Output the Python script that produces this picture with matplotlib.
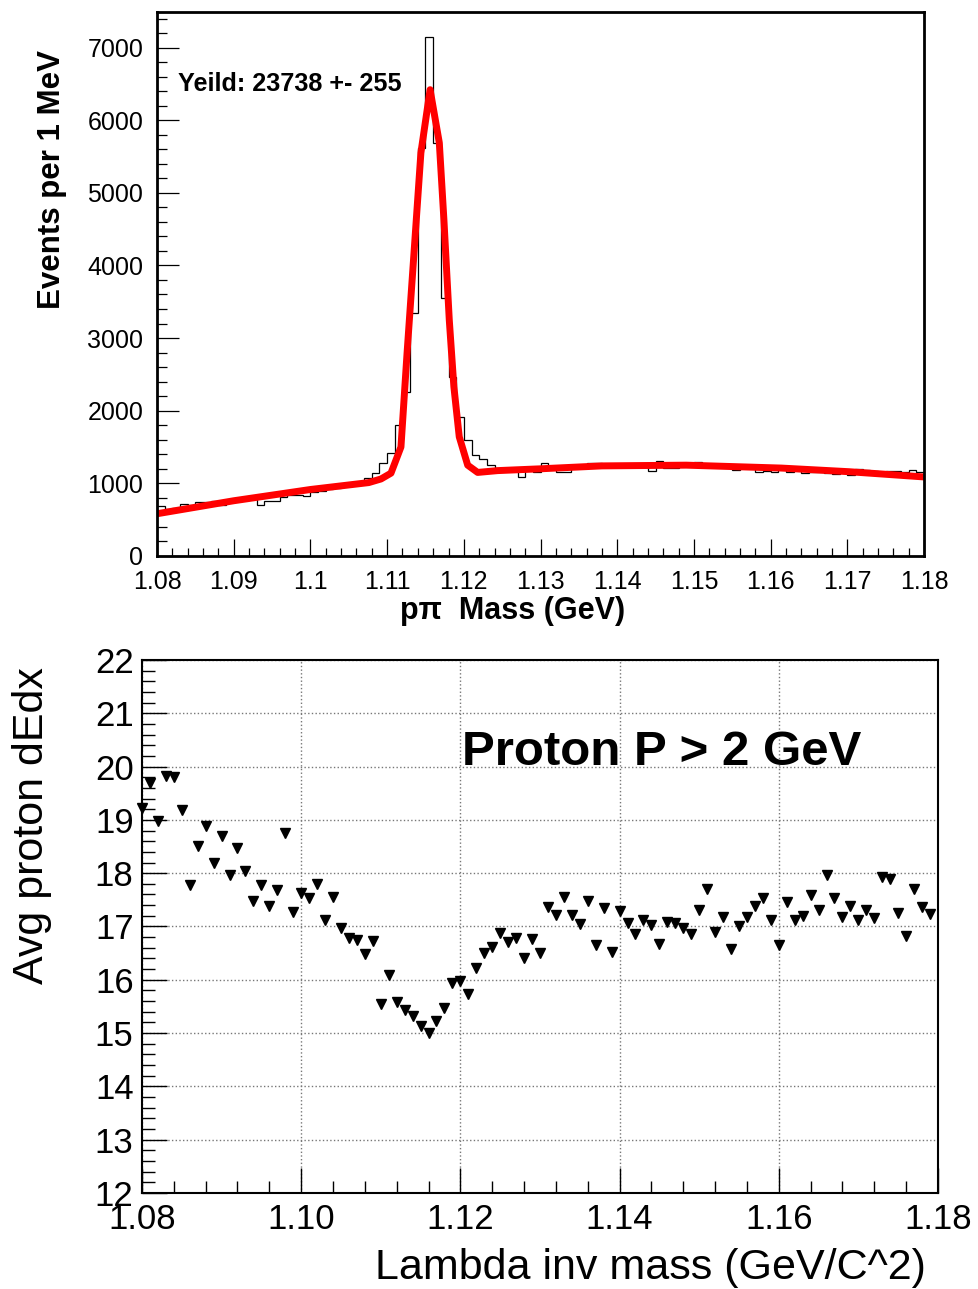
import numpy as np
import matplotlib
matplotlib.use("Agg")
import matplotlib.pyplot as plt
from matplotlib.ticker import MultipleLocator, FuncFormatter

plt.rcParams['font.family'] = ['Liberation Sans', 'DejaVu Sans']

# ========================
# DATA
# ========================
# p-pi invariant mass histogram, 1 MeV bins from 1.08 to 1.18 GeV
hist_edges = np.round(np.linspace(1.08, 1.18, 101), 3)
events = [690, 640, 660, 712, 700, 740, 745, 760, 700, 770,
          790, 800, 810, 700, 755, 760, 810, 840, 840, 820,
          880, 900, 920, 930, 960, 990, 1000, 1070, 1140, 1285,
          1415, 1800, 2260, 3350, 5620, 7150, 5690, 3550, 2470, 1920,
          1590, 1390, 1330, 1250, 1210, 1205, 1200, 1090, 1200, 1150,
          1275, 1230, 1155, 1160, 1215, 1230, 1285, 1275, 1230, 1240,
          1230, 1250, 1240, 1260, 1175, 1310, 1210, 1205, 1260, 1250,
          1300, 1260, 1250, 1240, 1250, 1190, 1250, 1230, 1160, 1170,
          1160, 1200, 1150, 1190, 1140, 1150, 1160, 1140, 1130, 1150,
          1115, 1200, 1190, 1175, 1160, 1170, 1175, 1160, 1190, 1150]

# fit curve (gaussian + background)
fit_mass = [1.0805, 1.0900, 1.1000, 1.1076, 1.1092, 1.1105, 1.1118, 1.1126,
            1.1135, 1.1144, 1.1156, 1.1168, 1.1174, 1.1181, 1.1187, 1.1194,
            1.1205, 1.1218, 1.1244, 1.1300, 1.1380, 1.1490, 1.1614, 1.1702,
            1.1797]
fit_events = [590, 760, 915, 1010, 1060, 1140, 1500, 2800,
              4170, 5550, 6420, 5690, 4630, 3250, 2330, 1640,
              1250, 1150, 1175, 1200, 1240, 1250, 1210, 1160,
              1090]

# average proton dE/dx vs lambda mass
dedx_mass = np.round(np.linspace(1.080, 1.179, 100), 3)
avg_dedx = [19.22, 19.69, 18.97, 19.82, 19.80, 19.19, 17.77, 18.51, 18.89, 18.19,
            18.69, 17.97, 18.47, 18.04, 17.48, 17.77, 17.39, 17.68, 18.75, 17.28,
            17.62, 17.54, 17.79, 17.13, 17.56, 16.97, 16.78, 16.75, 16.49, 16.73,
            15.54, 16.09, 15.58, 15.43, 15.32, 15.14, 15.01, 15.22, 15.47, 15.93,
            15.97, 15.73, 16.22, 16.51, 16.61, 16.87, 16.70, 16.78, 16.40, 16.77,
            16.51, 17.36, 17.22, 17.55, 17.22, 17.05, 17.47, 16.66, 17.34, 16.53,
            17.29, 17.06, 16.86, 17.12, 17.03, 16.67, 17.09, 17.07, 16.97, 16.86,
            17.31, 17.70, 16.90, 17.18, 16.57, 17.00, 17.18, 17.38, 17.54, 17.13,
            16.65, 17.45, 17.12, 17.20, 17.59, 17.30, 17.97, 17.53, 17.18, 17.38,
            17.12, 17.30, 17.16, 17.92, 17.89, 17.25, 16.82, 17.71, 17.36, 17.23]

fig = plt.figure(figsize=(9.79, 12.89), dpi=100)

# ========================
# TOP - MASS HISTOGRAM
# ========================
ax1 = fig.add_axes([0.1604, 0.5687, 0.7835, 0.4220])
ax1.stairs(events, hist_edges, color='black', lw=0.9, baseline=None)
ax1.plot(fit_mass, fit_events, color='#ff0000', lw=5, solid_joinstyle='round')

ax1.set_xlim(1.08, 1.18)
ax1.set_ylim(0, 7490)
ax1.xaxis.set_major_locator(MultipleLocator(0.01))
ax1.xaxis.set_minor_locator(MultipleLocator(0.002))
ax1.yaxis.set_major_locator(MultipleLocator(1000))
ax1.yaxis.set_minor_locator(MultipleLocator(200))
ax1.xaxis.set_major_formatter(FuncFormatter(lambda v, p: f"{v:.2f}".rstrip('0').rstrip('.')))
ax1.yaxis.set_major_formatter(FuncFormatter(lambda v, p: f"{v:.0f}"))
ax1.tick_params(axis='both', which='both', direction='in', width=0.9, labelsize=18)
ax1.tick_params(axis='y', which='major', length=16, pad=10)
ax1.tick_params(axis='y', which='minor', length=7.5)
ax1.tick_params(axis='x', which='major', length=12, pad=10)
ax1.tick_params(axis='x', which='minor', length=6)
for s in ax1.spines.values():
    s.set_linewidth(2)

ax1.text(0.0274, 0.868, "Yeild: 23738 +- 255", transform=ax1.transAxes,
         fontsize=18.2, fontweight='bold', ha='left', va='center')
fig.text(0.053, 1 - 50 / 1289, "Events per 1 MeV", rotation=90, fontsize=22.5,
         fontweight='bold', ha='center', va='top')
fig.text(0.524, 1 - 611 / 1289, "p\u03c0  Mass (GeV)", fontsize=22,
         fontweight='bold', ha='center', va='center')

# ========================
# BOTTOM - dEdx vs MASS
# ========================
ax2 = fig.add_axes([0.1450, 0.0745, 0.8131, 0.4135])
ax2.plot(dedx_mass, avg_dedx, 'v', color='black', ms=7.5, clip_on=False)

ax2.set_xlim(1.08, 1.18)
ax2.set_ylim(12, 22)
ax2.xaxis.set_major_locator(MultipleLocator(0.02))
ax2.xaxis.set_minor_locator(MultipleLocator(0.004))
ax2.yaxis.set_major_locator(MultipleLocator(1))
ax2.yaxis.set_minor_locator(MultipleLocator(0.2))
ax2.xaxis.set_major_formatter(FuncFormatter(lambda v, p: f"{v:.2f}"))
ax2.yaxis.set_major_formatter(FuncFormatter(lambda v, p: f"{v:.0f}"))
ax2.grid(True, which='major', color='#777777', linestyle=':', lw=1)
ax2.tick_params(axis='both', which='both', direction='in', width=1, labelsize=25)
ax2.tick_params(axis='y', which='major', length=18, pad=6)
ax2.tick_params(axis='y', which='minor', length=9)
ax2.tick_params(axis='x', which='major', length=18, pad=7)
ax2.tick_params(axis='x', which='minor', length=9)
for s in ax2.spines.values():
    s.set_linewidth(1.5)

ax2.text(0.402, 0.827, "Proton P > 2 GeV", transform=ax2.transAxes,
         fontsize=35.5, fontweight='bold', ha='left', va='center')
fig.text(0.0327, 1 - 826 / 1289, "Avg proton dEdx", rotation=90, fontsize=31,
         ha='center', va='center')
fig.text(0.664, 1 - 1268 / 1289, "Lambda inv mass (GeV/C^2)", fontsize=31,
         ha='center', va='center')

plt.savefig("out.png", dpi=100)
